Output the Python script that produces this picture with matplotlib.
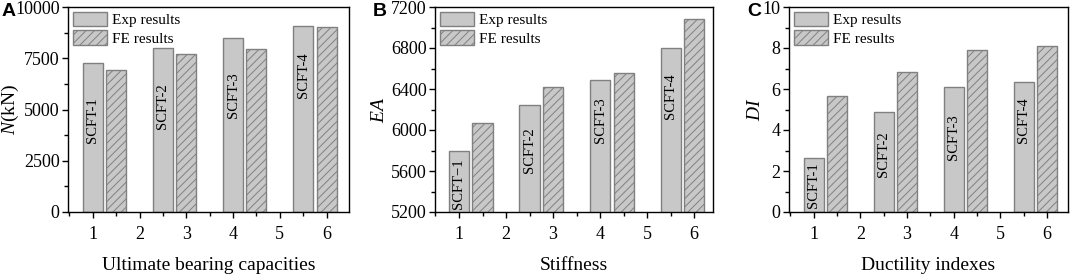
import matplotlib
matplotlib.use("Agg")
import matplotlib.pyplot as plt
from matplotlib.ticker import MultipleLocator

# data
specimens_a = ["SCFT-1", "SCFT-2", "SCFT-3", "SCFT-4"]
specimens_b = ["SCFT\u22121", "SCFT-2", "SCFT-3", "SCFT-4"]
exp_n = [7270, 8015, 8505, 9085]
fe_n = [6945, 7725, 7935, 9005]
exp_ea = [5795, 6242, 6483, 6803]
fe_ea = [6070, 6418, 6558, 7080]
exp_di = [2.63, 4.86, 6.11, 6.32]
fe_di = [5.64, 6.83, 7.90, 8.10]
tick_labels = ["1", "2", "3", "4", "5", "6"]

plt.rcParams['font.family'] = ['Liberation Serif', 'DejaVu Serif']
plt.rcParams['mathtext.fontset'] = 'custom'
plt.rcParams['mathtext.it'] = 'Liberation Serif:italic'
plt.rcParams['mathtext.rm'] = 'Liberation Serif'
plt.rcParams['hatch.linewidth'] = 0.7

fill = '#c8c8c8'
edge = '#808080'
W, H = 1072, 276

fig = plt.figure(figsize=(W / 100, H / 100), dpi=100)

panels = [
    # left, right, xlim, ylim, major, minor, ylabel, xlabel, letter, letter x, ylabel x, exp, fe, names, label y
    (68, 349, (0.47, 6.48), (0, 10000), 2500, 1250, r'$N$(kN)', 'Ultimate bearing capacities', 'A',
     -0.235, -0.167, exp_n, fe_n, specimens_a, [4490, 5150, 5680, 6680]),
    (435, 713, (0.49, 6.40), (5200, 7200), 400, 200, r'$EA$', 'Stiffness', 'B',
     -0.223, -0.169, exp_ea, fe_ea, specimens_b, [5475, 5800, 6093, 6326]),
    (789, 1068, (0.47, 6.45), (0, 10), 2, 1, r'$DI$', 'Ductility indexes', 'C',
     -0.15, -0.09, exp_di, fe_di, specimens_a, [1.29, 2.80, 3.63, 4.46]),
]

group_x = [1, 2.5, 4, 5.5]
bw = 0.43

for (left, right, xlim, ylim, major, minor, ylab, xlab, letter, lx, yx,
     exp, fe, names, ly) in panels:
    ax = fig.add_axes([left / W, 1 - 212 / H, (right - left) / W, 205 / H])
    ax.bar(group_x, exp, width=bw, color=fill, edgecolor=edge, linewidth=1,
           label='Exp results', zorder=2)
    ax.bar([g + 0.5 for g in group_x], fe, width=bw, color=fill, edgecolor=edge,
           linewidth=1, hatch='////', label='FE results', zorder=2)
    for g, name, y in zip(group_x, names, ly):
        ax.text(g, y, name, rotation=90, ha='center', va='center', fontsize=10.5)
    ax.set_xlim(*xlim)
    ax.set_ylim(*ylim)
    ax.set_xticks(range(1, 7))
    ax.set_xticklabels(tick_labels)
    ax.xaxis.set_minor_locator(MultipleLocator(0.5))
    ax.yaxis.set_major_locator(MultipleLocator(major))
    ax.yaxis.set_minor_locator(MultipleLocator(minor))
    ax.tick_params(which='major', direction='out', length=4, width=1, labelsize=13)
    ax.tick_params(which='minor', direction='out', length=3, width=1)
    ax.tick_params(axis='x', pad=6)
    ax.tick_params(axis='y', pad=2)
    for s in ax.spines.values():
        s.set_linewidth(1)
    ax.set_xlabel(xlab, fontsize=14, labelpad=10)
    ax.set_ylabel(ylab, fontsize=14)
    ax.yaxis.set_label_coords(yx, 0.5)
    ax.legend(loc='upper left', frameon=False, fontsize=11, handlelength=2.25,
              handleheight=1.1, labelspacing=0.2, handletextpad=0.3,
              borderaxespad=0.1, borderpad=0.2)
    ax.text(lx, 0.98, letter, transform=ax.transAxes, fontsize=14,
            fontweight='bold', family='Liberation Sans', ha='left', va='center')

fig.savefig('out.png', dpi=100)
